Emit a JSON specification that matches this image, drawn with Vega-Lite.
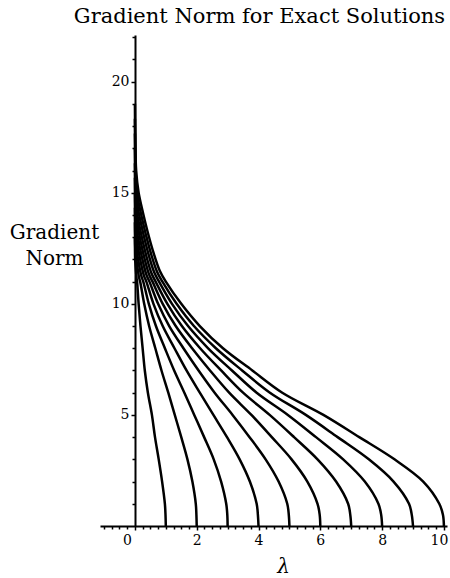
{
 "$schema": "https://vega.github.io/schema/vega-lite/v6.json",
 "width": 347, "height": 491,
 "autosize": {"type": "none"},
 "padding": {"left": 100, "top": 35, "right": 3, "bottom": 52},
 "background": "white",
 "title": {"text": "Gradient Norm for Exact Solutions", "font": "DejaVu Serif", "fontSize": 21, "fontWeight": "normal", "color": "black", "anchor": "middle", "frame": "group", "offset": -9, "baseline": "alphabetic", "dx": -14},
 "config": {"view": {"stroke": null}, "axis": {"grid": false, "domainColor": "black", "tickColor": "black", "labelColor": "black", "titleColor": "black", "labelFont": "DejaVu Serif", "titleFont": "DejaVu Serif", "labelFontSize": 14, "titleFontWeight": "normal", "domainWidth": 2, "tickWidth": 1.5}},
 "data": {"values": [
  {"k":1,"x":0,"y":13},{"k":1,"x":0.001,"y":12.625},{"k":1,"x":0.003,"y":12.25},{"k":1,"x":0.008,"y":12.0},{"k":1,"x":0.018,"y":11.775},{"k":1,"x":0.028,"y":11.575},{"k":1,"x":0.041,"y":11.35},{"k":1,"x":0.056,"y":11.125},{"k":1,"x":0.07,"y":11},{"k":1,"x":0.12,"y":10},{"k":1,"x":0.18,"y":9},{"k":1,"x":0.25,"y":8},{"k":1,"x":0.32,"y":7},{"k":1,"x":0.42,"y":6},{"k":1,"x":0.55,"y":5},{"k":1,"x":0.65,"y":4},{"k":1,"x":0.77,"y":3},{"k":1,"x":0.88,"y":2},{"k":1,"x":0.97,"y":1},{"k":1,"x":0.99,"y":0.5},{"k":1,"x":1,"y":0},
  {"k":2,"x":0,"y":13.67},{"k":2,"x":0.002,"y":13.17},{"k":2,"x":0.007,"y":12.67},{"k":2,"x":0.02,"y":12.33},{"k":2,"x":0.044,"y":12.03},{"k":2,"x":0.068,"y":11.77},{"k":2,"x":0.099,"y":11.47},{"k":2,"x":0.136,"y":11.17},{"k":2,"x":0.17,"y":11},{"k":2,"x":0.30,"y":10},{"k":2,"x":0.46,"y":9},{"k":2,"x":0.66,"y":8},{"k":2,"x":0.86,"y":7},{"k":2,"x":1.08,"y":6},{"k":2,"x":1.29,"y":5},{"k":2,"x":1.50,"y":4},{"k":2,"x":1.70,"y":3},{"k":2,"x":1.86,"y":2},{"k":2,"x":1.97,"y":1},{"k":2,"x":1.99,"y":0.5},{"k":2,"x":2,"y":0},
  {"k":3,"x":0,"y":14.33},{"k":3,"x":0.003,"y":13.71},{"k":3,"x":0.011,"y":13.08},{"k":3,"x":0.032,"y":12.67},{"k":3,"x":0.07,"y":12.29},{"k":3,"x":0.108,"y":11.96},{"k":3,"x":0.157,"y":11.58},{"k":3,"x":0.216,"y":11.21},{"k":3,"x":0.27,"y":11},{"k":3,"x":0.45,"y":10},{"k":3,"x":0.68,"y":9},{"k":3,"x":0.97,"y":8},{"k":3,"x":1.27,"y":7},{"k":3,"x":1.60,"y":6},{"k":3,"x":1.92,"y":5},{"k":3,"x":2.24,"y":4},{"k":3,"x":2.55,"y":3},{"k":3,"x":2.79,"y":2},{"k":3,"x":2.955,"y":1},{"k":3,"x":2.99,"y":0.5},{"k":3,"x":3,"y":0},
  {"k":4,"x":0,"y":15},{"k":4,"x":0.004,"y":14.25},{"k":4,"x":0.015,"y":13.5},{"k":4,"x":0.044,"y":13},{"k":4,"x":0.096,"y":12.55},{"k":4,"x":0.148,"y":12.15},{"k":4,"x":0.215,"y":11.7},{"k":4,"x":0.296,"y":11.25},{"k":4,"x":0.37,"y":11},{"k":4,"x":0.60,"y":10},{"k":4,"x":0.90,"y":9},{"k":4,"x":1.28,"y":8},{"k":4,"x":1.67,"y":7},{"k":4,"x":2.10,"y":6},{"k":4,"x":2.54,"y":5},{"k":4,"x":2.98,"y":4},{"k":4,"x":3.39,"y":3},{"k":4,"x":3.72,"y":2},{"k":4,"x":3.94,"y":1},{"k":4,"x":3.98,"y":0.5},{"k":4,"x":4,"y":0},
  {"k":5,"x":0,"y":15.67},{"k":5,"x":0.005,"y":14.79},{"k":5,"x":0.019,"y":13.92},{"k":5,"x":0.056,"y":13.33},{"k":5,"x":0.122,"y":12.81},{"k":5,"x":0.188,"y":12.34},{"k":5,"x":0.273,"y":11.82},{"k":5,"x":0.376,"y":11.29},{"k":5,"x":0.47,"y":11},{"k":5,"x":0.75,"y":10},{"k":5,"x":1.11,"y":9},{"k":5,"x":1.57,"y":8},{"k":5,"x":2.06,"y":7},{"k":5,"x":2.58,"y":6},{"k":5,"x":3.16,"y":5},{"k":5,"x":3.71,"y":4},{"k":5,"x":4.23,"y":3},{"k":5,"x":4.65,"y":2},{"k":5,"x":4.93,"y":1},{"k":5,"x":4.98,"y":0.5},{"k":5,"x":5,"y":0},
  {"k":6,"x":0,"y":16.33},{"k":6,"x":0.006,"y":15.33},{"k":6,"x":0.023,"y":14.33},{"k":6,"x":0.068,"y":13.67},{"k":6,"x":0.148,"y":13.07},{"k":6,"x":0.228,"y":12.53},{"k":6,"x":0.331,"y":11.93},{"k":6,"x":0.456,"y":11.33},{"k":6,"x":0.57,"y":11},{"k":6,"x":0.90,"y":10},{"k":6,"x":1.32,"y":9},{"k":6,"x":1.85,"y":8},{"k":6,"x":2.43,"y":7},{"k":6,"x":3.05,"y":6},{"k":6,"x":3.77,"y":5},{"k":6,"x":4.43,"y":4},{"k":6,"x":5.07,"y":3},{"k":6,"x":5.58,"y":2},{"k":6,"x":5.91,"y":1},{"k":6,"x":5.98,"y":0.5},{"k":6,"x":6,"y":0},
  {"k":7,"x":0,"y":17},{"k":7,"x":0.007,"y":15.875},{"k":7,"x":0.027,"y":14.75},{"k":7,"x":0.08,"y":14},{"k":7,"x":0.174,"y":13.325},{"k":7,"x":0.268,"y":12.725},{"k":7,"x":0.389,"y":12.05},{"k":7,"x":0.536,"y":11.375},{"k":7,"x":0.67,"y":11},{"k":7,"x":1.05,"y":10},{"k":7,"x":1.52,"y":9},{"k":7,"x":2.11,"y":8},{"k":7,"x":2.79,"y":7},{"k":7,"x":3.50,"y":6},{"k":7,"x":4.36,"y":5},{"k":7,"x":5.15,"y":4},{"k":7,"x":5.91,"y":3},{"k":7,"x":6.51,"y":2},{"k":7,"x":6.90,"y":1},{"k":7,"x":6.97,"y":0.5},{"k":7,"x":7,"y":0},
  {"k":8,"x":0,"y":17.67},{"k":8,"x":0.008,"y":16.42},{"k":8,"x":0.031,"y":15.17},{"k":8,"x":0.094,"y":14.33},{"k":8,"x":0.203,"y":13.58},{"k":8,"x":0.312,"y":12.92},{"k":8,"x":0.452,"y":12.17},{"k":8,"x":0.624,"y":11.42},{"k":8,"x":0.78,"y":11},{"k":8,"x":1.2,"y":10},{"k":8,"x":1.72,"y":9},{"k":8,"x":2.37,"y":8},{"k":8,"x":3.14,"y":7},{"k":8,"x":3.94,"y":6},{"k":8,"x":4.95,"y":5},{"k":8,"x":5.86,"y":4},{"k":8,"x":6.74,"y":3},{"k":8,"x":7.44,"y":2},{"k":8,"x":7.88,"y":1},{"k":8,"x":7.97,"y":0.5},{"k":8,"x":8,"y":0},
  {"k":9,"x":0,"y":18.33},{"k":9,"x":0.009,"y":16.96},{"k":9,"x":0.036,"y":15.58},{"k":9,"x":0.107,"y":14.67},{"k":9,"x":0.231,"y":13.84},{"k":9,"x":0.356,"y":13.11},{"k":9,"x":0.516,"y":12.28},{"k":9,"x":0.712,"y":11.46},{"k":9,"x":0.89,"y":11},{"k":9,"x":1.35,"y":10},{"k":9,"x":1.91,"y":9},{"k":9,"x":2.62,"y":8},{"k":9,"x":3.47,"y":7},{"k":9,"x":4.37,"y":6},{"k":9,"x":5.53,"y":5},{"k":9,"x":6.56,"y":4},{"k":9,"x":7.57,"y":3},{"k":9,"x":8.37,"y":2},{"k":9,"x":8.87,"y":1},{"k":9,"x":8.96,"y":0.5},{"k":9,"x":9,"y":0},
  {"k":10,"x":0,"y":19},{"k":10,"x":0.01,"y":17.5},{"k":10,"x":0.04,"y":16},{"k":10,"x":0.12,"y":15},{"k":10,"x":0.26,"y":14.1},{"k":10,"x":0.4,"y":13.3},{"k":10,"x":0.58,"y":12.4},{"k":10,"x":0.8,"y":11.5},{"k":10,"x":1.0,"y":11},{"k":10,"x":1.5,"y":10},{"k":10,"x":2.1,"y":9},{"k":10,"x":2.85,"y":8},{"k":10,"x":3.8,"y":7},{"k":10,"x":4.77,"y":6},{"k":10,"x":6.1,"y":5},{"k":10,"x":7.26,"y":4},{"k":10,"x":8.4,"y":3},{"k":10,"x":9.33,"y":2},{"k":10,"x":9.85,"y":1},{"k":10,"x":9.97,"y":0.5},{"k":10,"x":10,"y":0}
 ]},
 "layer": [
  {"mark": {"type": "line", "color": "black", "strokeWidth": 2.5, "interpolate": "catmull-rom"},
   "encoding": {
     "x": {"field": "x", "type": "quantitative", "scale": {"domain": [-1.13, 10.1], "nice": false, "zero": false},
       "axis": {"orient": "bottom", "values": [0,2,4,6,8,10], "format": "d", "title": "λ", "titleFontSize": 20, "titleFontStyle": "italic", "titleX": 183, "titleY": 46, "titleBaseline": "alphabetic", "titleAlign": "center", "tickSize": 4, "labelPadding": 3,
         "labelOffset": {"condition": [{"test": "datum.value === 0", "value": -8}, {"test": "datum.value === 10", "value": -5}], "value": 0}}},
     "y": {"field": "y", "type": "quantitative", "scale": {"domain": [0, 22.1], "nice": false, "zero": false},
       "axis": {"orient": "left", "offset": -35, "values": [5,10,15,20], "title": ["Gradient", "Norm"], "titleAngle": 0, "titleX": -81, "titleY": 203, "titleAlign": "center", "titleBaseline": "alphabetic", "titleFontSize": 20, "titleLineHeight": 26, "tickSize": 4, "labelPadding": 2}},
     "detail": {"field": "k", "type": "nominal"},
     "order": {"field": "y", "sort": "descending"}
   }},
  {"mark": {"type": "point", "opacity": 0},
   "encoding": {
     "x": {"field": "x", "type": "quantitative", "scale": {"domain": [-1.13, 10.1], "nice": false, "zero": false},
       "axis": {"orient": "bottom", "domain": false, "labels": false, "title": null, "tickSize": 3, "values": [-1,-0.75,-0.5,-0.25,0.25,0.5,0.75,1,1.25,1.5,1.75,2.25,2.5,2.75,3,3.25,3.5,3.75,4.25,4.5,4.75,5,5.25,5.5,5.75,6.25,6.5,6.75,7,7.25,7.5,7.75,8.25,8.5,8.75,9,9.25,9.5,9.75]}},
     "y": {"field": "y", "type": "quantitative", "scale": {"domain": [0, 22.1], "nice": false, "zero": false},
       "axis": {"orient": "left", "offset": -35, "domain": false, "labels": false, "title": null, "tickSize": 3, "values": [1,2,3,4,6,7,8,9,11,12,13,14,16,17,18,19,21,22]}}
   }}
 ],
 "resolve": {"axis": {"x": "independent", "y": "independent"}}
}
